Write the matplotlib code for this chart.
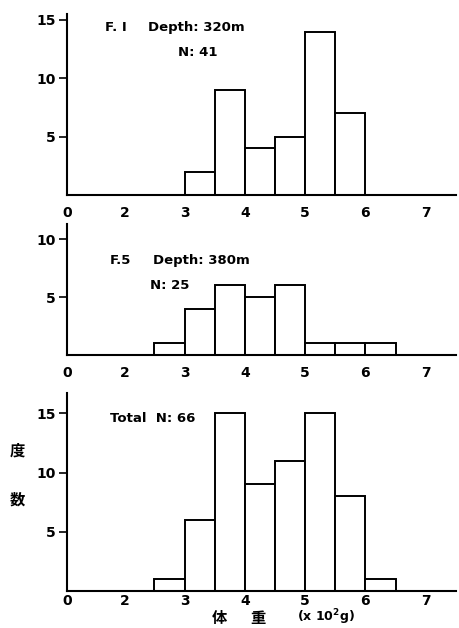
import matplotlib.pyplot as plt
import numpy as np

# weight classes (x 10^2 g), bin width 0.5
bin_w = 0.5
f1_edges = [3.0, 3.5, 4.0, 4.5, 5.0, 5.5]
f1_counts = [2, 9, 4, 5, 14, 7]
f5_edges = [2.5, 3.0, 3.5, 4.0, 4.5, 5.0, 5.5, 6.0]
f5_counts = [1, 4, 6, 5, 6, 1, 1, 1]
tot_edges = [2.5, 3.0, 3.5, 4.0, 4.5, 5.0, 5.5, 6.0]
tot_counts = [1, 6, 15, 9, 11, 15, 8, 1]

xticks = [0, 2, 3, 4, 5, 6, 7]
xlabels = ['0', '2', '3', '4', '5', '6', '7']

# axis is squeezed between 0 and 2 in the original
k = 0.475
def fwd(x):
    x = np.asarray(x, dtype=float)
    return np.where(x < 2, x * k, x - 2 + 2 * k)
def inv(y):
    y = np.asarray(y, dtype=float)
    return np.where(y < 2 * k, y / k, y + 2 - 2 * k)

plt.rcParams['font.family'] = ['DejaVu Sans']
plt.rcParams['font.weight'] = 'bold'
cjk = ['Noto Sans CJK JP', 'DejaVu Sans']

fig = plt.figure(figsize=(4.59, 6.28), dpi=100)
ax1 = fig.add_axes([0.146, 0.6895, 0.847, 0.288])
ax2 = fig.add_axes([0.146, 0.4347, 0.847, 0.2086])
ax3 = fig.add_axes([0.146, 0.0589, 0.847, 0.315])

panels = [
    (ax1, f1_edges, f1_counts, 15.5, [5, 10, 15]),
    (ax2, f5_edges, f5_counts, 11.3, [5, 10]),
    (ax3, tot_edges, tot_counts, 16.7, [5, 10, 15]),
]

for ax, edges, counts, ytop, yt in panels:
    ax.set_xscale('function', functions=(fwd, inv))
    ax.bar(edges, counts, width=bin_w, align='edge', color='white',
           edgecolor='black', linewidth=1.4)
    ax.set_xlim(0, 7.5)
    ax.set_ylim(0, ytop)
    ax.spines['top'].set_visible(False)
    ax.spines['right'].set_visible(False)
    ax.spines['left'].set_linewidth(1.5)
    ax.spines['bottom'].set_linewidth(1.5)
    ax.set_xticks(xticks)
    ax.set_xticklabels(xlabels, fontsize=10, fontweight='bold')
    ax.xaxis.set_minor_locator(plt.NullLocator())
    ax.tick_params(axis='x', length=0, pad=8)
    ax.set_yticks(yt)
    ax.set_yticklabels([str(v) for v in yt], fontsize=10, fontweight='bold')
    ax.tick_params(axis='y', direction='out', length=6, width=1.2, pad=2)

ax3.tick_params(axis='x', pad=2)

ax1.text(0.098, 0.928, 'F. I', transform=ax1.transAxes, fontsize=9.5,
         fontweight='bold', va='center')
ax1.text(0.208, 0.928, 'Depth: 320m', transform=ax1.transAxes, fontsize=9.5,
         fontweight='bold', va='center')
ax1.text(0.285, 0.79, 'N: 41', transform=ax1.transAxes, fontsize=9.5,
         fontweight='bold', va='center')

ax2.text(0.11, 0.725, 'F.5', transform=ax2.transAxes, fontsize=9.5,
         fontweight='bold', va='center')
ax2.text(0.221, 0.725, 'Depth: 380m', transform=ax2.transAxes, fontsize=9.5,
         fontweight='bold', va='center')
ax2.text(0.213, 0.534, 'N: 25', transform=ax2.transAxes, fontsize=9.5,
         fontweight='bold', va='center')

ax3.text(0.11, 0.874, 'Total  N: 66', transform=ax3.transAxes, fontsize=9.5,
         fontweight='bold', va='center')

fig.text(0.037, 0.283, '度', family=cjk, fontsize=11, ha='center', va='center')
fig.text(0.037, 0.204, '数', family=cjk, fontsize=11, ha='center', va='center')
fig.text(0.479, 0.016, '体', family=cjk, fontsize=11, ha='center', va='center')
fig.text(0.562, 0.016, '重', family=cjk, fontsize=11, ha='center', va='center')
fig.text(0.648, 0.017, '(x 10$^{\\mathbf{2}}$g)', fontsize=9, fontweight='bold',
         ha='left', va='center')

fig.savefig('out.png', dpi=100)
